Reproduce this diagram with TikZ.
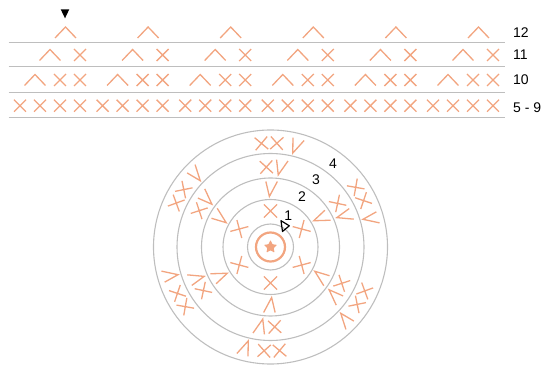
\documentclass[tikz,border=0pt]{standalone}
\usepackage{fontspec}
\setmainfont{Liberation Sans}
\usetikzlibrary{shapes.geometric}
\definecolor{salmon}{RGB}{242,165,128}
\definecolor{rowgray}{RGB}{190,190,190}
\begin{document}
\begin{tikzpicture}[
    x=1pt, y=1pt,
    stitch/.style={draw=salmon, line width=1.3pt},
    guide/.style={draw=rowgray, line width=1.1pt},
    rowlabel/.style={anchor=west, inner sep=0pt, font=\fontsize{14}{16}\selectfont},
    roundno/.style={inner sep=0pt, font=\fontsize{14}{16}\selectfont},
    sc/.pic={\draw[stitch] (-6,-6) -- (6,6) (-6,6) -- (6,-6);},
    dec/.pic={\draw[stitch] (-10.5,-5.5) -- (0,5.5) -- (10.5,-5.5);},
    inc/.pic={\draw[stitch, xslant=0.15] (-5,6.5) -- (0,-6.5) -- (5,6.5);}
]
    \useasboundingbox (0,0) rectangle (547,367);

    % flat rows
    \foreach \y in {324.7,300.5,274.7,249.7}
        \draw[guide] (8.5,\y) -- (505,\y);
    \foreach \g in {0,...,5}{
        \foreach \x in {20,40,60,80}
            \pic at (\x+82.6*\g,261.3) {sc};
        \pic at (35+82.6*\g,287) {dec};
        \pic at (60+82.6*\g,287) {sc};
        \pic at (80+82.6*\g,287) {sc};
        \pic at (50+82.6*\g,312) {dec};
        \pic at (80+82.6*\g,312) {sc};
        \pic at (65.5+82.6*\g,334.5) {dec};
    }
    \fill (60.7,357.7) -- (69.3,357.7) -- (65,348.7) -- cycle;

    \node[rowlabel] (r12) at (513,334.3) {12};
    \node[rowlabel] (r11) at (513,312) {11};
    \node[rowlabel] (r10) at (513,287) {10};
    \node[rowlabel] (r59) at (513,259.7) {5 - 9};

    % rounds
    \begin{scope}[shift={(270.5,120)}]
        \foreach \r in {23,47.5,69,93.5,117}
            \draw[guide] (0,0) circle[radius=\r];
        \draw[salmon, line width=2.2pt] (0,0) circle[radius=14.5];
        \node[star, star points=5, star point ratio=2.1, fill=salmon,
              minimum size=14pt, inner sep=0pt, rounded corners=0.8pt] (ctr) at (0,0) {};
        \foreach \k in {0,...,5}{
            \pic[scale=1.1, rotate=60*\k] at (90+60*\k:36) {sc};
            \pic[scale=1.15, rotate=60*\k] at (90+60*\k:58) {inc};
            \pic[scale=1.05, rotate=60*\k+3] at (93+60*\k:80) {sc};
            \pic[scale=1.15, rotate=60*\k-7] at (83+60*\k:80) {inc};
            \pic[scale=1.05, rotate=60*\k+5] at (95+60*\k:104) {sc};
            \pic[scale=1.05, rotate=60*\k-3.5] at (86.5+60*\k:104) {sc};
            \pic[scale=1.15, rotate=60*\k-14] at (76+60*\k:104) {inc};
        }
        \node[roundno] (n1) at (60.5:36.2) {1};
        \node[roundno] (n2) at (57.8:59) {2};
        \node[roundno] (n3) at (56:81.6) {3};
        \node[roundno] (n4) at (53.3:104.5) {4};
        \draw[line width=1.2pt, line join=round] (10.5,26.3) -- (12,15.5) -- (18.8,21.2) -- cycle;
    \end{scope}
\end{tikzpicture}
\end{document}
